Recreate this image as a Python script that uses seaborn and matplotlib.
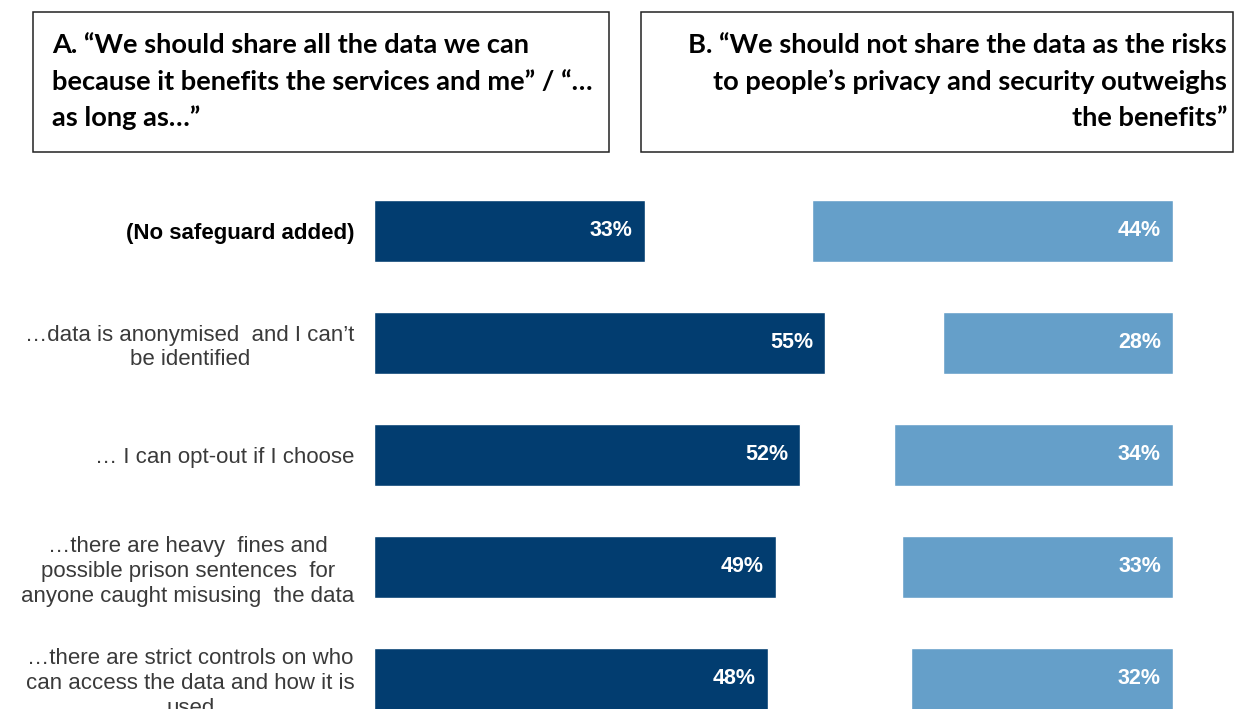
import matplotlib
matplotlib.use("Agg")
import matplotlib.pyplot as plt
from matplotlib.patches import Rectangle
import seaborn as sns
import pandas as pd

# Survey results: share of respondents choosing each statement
safeguards = [
    "(No safeguard added)",
    "…data is anonymised  and I can’t\nbe identified",
    "… I can opt-out if I choose",
    "…there are heavy  fines and\npossible prison sentences  for\nanyone caught misusing  the data",
    "…there are strict controls on who\ncan access the data and how it is\nused",
]
share_all = [33, 55, 52, 49, 48]
do_not_share = [44, 28, 34, 33, 32]

header_a = [
    "A. “We should share all the data we can",
    "because it benefits the services and me” / “…",
    "as long as…”",
]
header_b = [
    "B. “We should not share the data as the risks",
    "to people’s privacy and security outweighs",
    "the benefits”",
]

DARK = "#023d70"
LIGHT = "#659fc9"

sns.set_theme(style="white")
plt.rcParams["font.family"] = ["Liberation Sans", "DejaVu Sans"]

W, H = 1234, 709
fig = plt.figure(figsize=(W / 100, H / 100), dpi=100)

def fx(px):
    return px / W

def fy(py):
    return 1 - py / H

# Bar area: 374 px to 1173 px, 8.2 px per percentage point
x0, x1 = 374, 1173
span = (x1 - x0) / 8.2
top, bottom = 175, 709
rect = [fx(x0), fy(bottom), fx(x1) - fx(x0), fy(top) - fy(bottom)]
units = (bottom - top) / 112

df = pd.DataFrame({"safeguard": safeguards, "share": share_all, "noshare": do_not_share})

ax_a = fig.add_axes(rect)
ax_b = fig.add_axes(rect)
ax_b.patch.set_alpha(0)

sns.barplot(data=df, y="safeguard", x="share", orient="h", color=DARK,
            width=0.555, saturation=1, ax=ax_a)
sns.barplot(data=df, y="safeguard", x="noshare", orient="h", color=LIGHT,
            width=0.555, saturation=1, ax=ax_b)

for ax in (ax_a, ax_b):
    ax.set_ylim(-0.5 + units, -0.5)
    ax.set_xlabel("")
    ax.set_ylabel("")
    ax.set_xticks([])
    for s in ax.spines.values():
        s.set_visible(False)
    ax.grid(False)

ax_a.set_xlim(0, span)
ax_b.set_xlim(span, 0)
ax_b.set_yticks([])

value_font = dict(family=["Liberation Sans Narrow", "Liberation Sans", "DejaVu Sans"],
                  weight="bold", size=15.5, color="white")
pad = 12 / 8.2
for i, v in enumerate(share_all):
    ax_a.text(v - pad, i, f"{v}%", ha="right", va="center", **value_font)
for i, v in enumerate(do_not_share):
    ax_b.text(pad, i, f"{v}%", ha="right", va="center", **value_font)

ax_a.tick_params(axis="y", length=0, pad=14)
for i, lab in enumerate(ax_a.get_yticklabels()):
    lab.set_multialignment("center")
    lab.set_fontsize(16)
    lab.set_linespacing(1.23)
    if i == 0:
        lab.set_fontweight("bold")
        lab.set_color("black")
    else:
        lab.set_color("#3a3a3a")

# Header boxes
box_kw = dict(transform=fig.transFigure, fill=False, edgecolor="#222222", linewidth=1.1)
fig.add_artist(Rectangle((fx(33), fy(152)), fx(609) - fx(33), fy(12) - fy(152), **box_kw))
fig.add_artist(Rectangle((fx(641), fy(152)), fx(1233) - fx(641), fy(12) - fy(152), **box_kw))

head_font = dict(family=["Lato", "DejaVu Sans"], weight="bold", size=19.6, color="black")
baselines = [53, 90, 126]
for line, yb in zip(header_a, baselines):
    fig.text(fx(52), fy(yb), line, ha="left", va="baseline", **head_font)
for line, yb in zip(header_b, baselines):
    fig.text(fx(1227), fy(yb), line, ha="right", va="baseline", **head_font)

fig.savefig("out.png", dpi=100)
